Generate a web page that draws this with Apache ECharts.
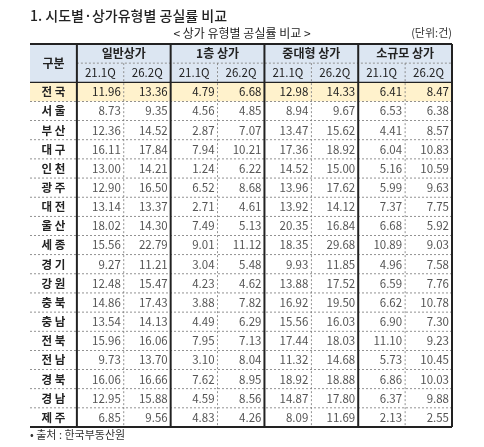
<!DOCTYPE html>
<html><head><meta charset="utf-8">
<script src="https://cdn.jsdelivr.net/npm/echarts@6/dist/echarts.min.js"></script>
<style>html,body{margin:0;padding:0;background:#fff}#c{width:484px;height:447px}</style>
</head><body><div id="c"></div>
<script>
const regions = ['전국','서울','부산','대구','인천','광주','대전','울산','세종','경기','강원','충북','충남','전북','전남','경북','경남','제주'];
const groups = ['일반상가','1층 상가','중대형 상가','소규모 상가'];
const quarters = ['21.1Q','26.2Q'];
const general21 = [11.96,8.73,12.36,16.11,13.00,12.90,13.14,18.02,15.56,9.27,12.48,14.86,13.54,15.96,9.73,16.06,12.95,6.85];
const general26 = [13.36,9.35,14.52,17.84,14.21,16.50,13.37,14.30,22.79,11.21,15.47,17.43,14.13,16.06,13.70,16.66,15.88,9.56];
const floor1_21 = [4.79,4.56,2.87,7.94,1.24,6.52,2.71,7.49,9.01,3.04,4.23,3.88,4.49,7.95,3.10,7.62,4.59,4.83];
const floor1_26 = [6.68,4.85,7.07,10.21,6.22,8.68,4.61,5.13,11.12,5.48,4.62,7.82,6.29,7.13,8.04,8.95,8.56,4.26];
const mid21 = [12.98,8.94,13.47,17.36,14.52,13.96,13.92,20.35,18.35,9.93,13.88,16.92,15.56,17.44,11.32,18.92,14.87,8.09];
const mid26 = [14.33,9.67,15.62,18.92,15.00,17.62,14.12,16.84,29.68,11.85,17.52,19.50,16.03,18.03,14.68,18.88,17.80,11.69];
const small21 = [6.41,6.53,4.41,6.04,5.16,5.99,7.37,6.68,10.89,4.96,6.59,6.62,6.90,11.10,5.73,6.86,6.37,2.13];
const small26 = [8.47,6.38,8.57,10.83,10.59,9.63,7.75,5.92,9.03,7.58,7.76,10.78,7.30,9.23,10.45,10.03,9.88,2.55];
const cols = [general21,general26,floor1_21,floor1_26,mid21,mid26,small21,small26];

const NR = regions.length + 2;
const cells = [];
cells.push([0,1,0,2,'구분','hdr']);
groups.forEach((g,i)=>cells.push([1+2*i,3+2*i,0,1,g,'hdr']));
for(let i=0;i<8;i++) cells.push([1+i,2+i,1,2,quarters[i%2],'hdr2']);
regions.forEach((r,j)=>{
  const kind = j===0?'tot':'row';
  cells.push([0,1,2+j,3+j,r.split('').join(' '),kind+'L']);
  cols.forEach((c,i)=>cells.push([1+i,2+i,2+j,3+j,c[j].toFixed(2),kind]));
});
const lines = [];
lines.push([0,0,9,0,'thick']);
lines.push([0,NR,9,NR,'thick']);
lines.push([1,1,9,1,'dash']);
lines.push([0,2,9,2,'solid']);
for(let j=3;j<NR;j++) lines.push([0,j,9,j,'dash']);
[1,3,5,7,9].forEach(x=>lines.push([x,0,x,NR,'thick']));
[2,4,6,8].forEach(x=>lines.push([x,1,x,NR,'dash']));

const chart = echarts.init(document.getElementById('c'));
const FF = '"Noto Sans CJK KR","Noto Sans",sans-serif';
chart.setOption({
  animation:false,
  graphic:[
    {type:'text',left:30,top:9,style:{text:'1. 시도별·상가유형별 공실률 비교',font:'500 14px '+FF,fill:'#222'}},
    {type:'text',left:'center',top:27,style:{text:'< 상가 유형별 공실률 비교 >',font:'12px '+FF,fill:'#222'}},
    {type:'text',right:32,top:27,style:{text:'(단위:건)',font:'11px '+FF,fill:'#333'}},
    {type:'text',left:30,top:429,style:{text:'• 출처 : 한국부동산원',font:'11px '+FF,fill:'#333'}}
  ],
  grid:{left:30,top:44,width:422,height:383},
  xAxis:{type:'value',min:0,max:9,show:false},
  yAxis:{type:'value',min:0,max:NR,inverse:true,show:false},
  series:[
    {type:'custom',data:cells,renderItem:(p,api)=>{
      const d = cells[p.dataIndex];
      const a = api.coord([d[0],d[2]]), b = api.coord([d[1],d[3]]);
      const k = d[5];
      const fill = k.startsWith('hdr')?'#dce6f2':(k.startsWith('tot')?'#fff2cc':'#fff');
      const isL = k.endsWith('L')||k.startsWith('hdr');
      const bold = k.endsWith('L')||k==='hdr';
      return {type:'group',children:[
        {type:'rect',shape:{x:a[0],y:a[1],width:b[0]-a[0],height:b[1]-a[1]},style:{fill:fill}},
        {type:'text',x:isL?(a[0]+b[0])/2:b[0]-3,y:(a[1]+b[1])/2,style:{text:d[4],
          align:isL?'center':'right',verticalAlign:'middle',
          font:(bold?'bold ':'')+(k==='hdr'?'12px ':'11.5px ')+FF,
          fill:k.startsWith('row')&&!k.endsWith('L')?'#555':'#222'}}
      ]};
    }},
    {type:'custom',data:lines,renderItem:(p,api)=>{
      const d = lines[p.dataIndex];
      const a = api.coord([d[0],d[1]]), b = api.coord([d[2],d[3]]);
      const s = d[4];
      return {type:'line',shape:{x1:a[0],y1:a[1],x2:b[0],y2:b[1]},
        style:{stroke:s==='dash'?'#777':'#222',lineWidth:s==='thick'?2:(s==='solid'?1.2:0.8),lineDash:s==='dash'?[2,2]:null}};
    }}
  ]
});
</script></body></html>
